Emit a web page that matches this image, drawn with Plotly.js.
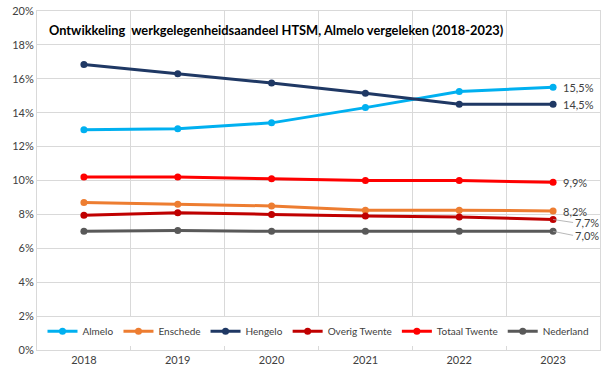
<!DOCTYPE html>
<html>
<head>
<meta charset="utf-8">
<script src="https://cdn.plot.ly/plotly-3.0.1.min.js"></script>
<style>html,body{margin:0;padding:0;background:#fff;}#chart{width:605px;height:375px;}</style>
</head>
<body>
<div id="chart"></div>
<script>
const years = ['2018', '2019', '2020', '2021', '2022', '2023'];
const almelo = [13.0, 13.05, 13.4, 14.3, 15.25, 15.5];
const enschede = [8.7, 8.6, 8.5, 8.25, 8.25, 8.2];
const hengelo = [16.85, 16.3, 15.75, 15.15, 14.5, 14.5];
const overigTwente = [7.95, 8.1, 8.0, 7.9, 7.85, 7.7];
const totaalTwente = [10.2, 10.2, 10.1, 10.0, 10.0, 9.9];
const nederland = [7.0, 7.05, 7.0, 7.0, 7.0, 7.0];
const seriesNames = ['Almelo', 'Enschede', 'Hengelo', 'Overig Twente', 'Totaal Twente', 'Nederland'];
const yTicks = [0, 2, 4, 6, 8, 10, 12, 14, 16, 18, 20];
const titleText = 'Ontwikkeling  werkgelegenheidsaandeel HTSM, Almelo vergeleken (2018-2023)';

const seriesData = [almelo, enschede, hengelo, overigTwente, totaalTwente, nederland];
const colors = ['#00b0f0', '#ed7d31', '#1f3864', '#c00000', '#ff0000', '#595959'];
const labelOffsets = [0, 0, 0, 3, 0, 4];
const fontFam = 'Lato, "Open Sans", sans-serif';

const traces = seriesData.map((vals, i) => ({
  type: 'scatter', mode: 'lines+markers', name: seriesNames[i],
  x: years, y: vals,
  line: {color: colors[i], width: 3},
  marker: {color: colors[i], size: 7},
  hoverinfo: 'skip'
}));

const last = years.length - 1;
const annotations = seriesData.map((vals, i) => ({
  x: last, y: vals[last], xref: 'x', yref: 'y',
  text: vals[last].toFixed(1).replace('.', ',') + '%',
  showarrow: labelOffsets[i] !== 0,
  arrowhead: 0, arrowwidth: 0.8, arrowcolor: '#a6a6a6',
  ax: 20, ay: labelOffsets[i],
  xanchor: 'left', yanchor: 'middle', xshift: labelOffsets[i] !== 0 ? 0 : 8,
  font: {size: 11, color: '#404040', family: fontFam}
}));
annotations.push({
  xref: 'paper', yref: 'paper', x: 0.018, y: 0.945, xanchor: 'left', yanchor: 'middle',
  text: '<b>' + titleText + '</b>', showarrow: false,
  font: {size: 12.8, color: '#000', family: fontFam}
});

const layout = {
  width: 605, height: 375,
  margin: {l: 37, r: 5, t: 11, b: 25},
  paper_bgcolor: '#fff', plot_bgcolor: '#fff',
  showlegend: true,
  legend: {orientation: 'h', x: 0.5, xanchor: 'center', y: 0.055, yanchor: 'middle',
    font: {size: 10, color: '#404040', family: fontFam}, itemwidth: 30, tracegroupgap: 0,
    bgcolor: 'rgba(255,255,255,1)'},
  xaxis: {type: 'category', tickson: 'boundaries', ticks: '', showgrid: true, gridcolor: '#d9d9d9',
    showline: true, linecolor: '#d9d9d9', mirror: true, zeroline: false, range: [-0.5, 5.5],
    tickfont: {size: 11, color: '#404040', family: fontFam}, fixedrange: true},
  yaxis: {range: [0, 20], tickvals: yTicks, ticktext: yTicks.map(v => v + '%'),
    showgrid: true, gridcolor: '#d9d9d9', zeroline: false,
    showline: true, linecolor: '#d9d9d9', mirror: true,
    tickfont: {size: 11, color: '#404040', family: fontFam}, ticklen: 0, ticks: ''},
  annotations: annotations
};

Plotly.newPlot('chart', traces, layout, {displayModeBar: false, staticPlot: true});
</script>
</body>
</html>
